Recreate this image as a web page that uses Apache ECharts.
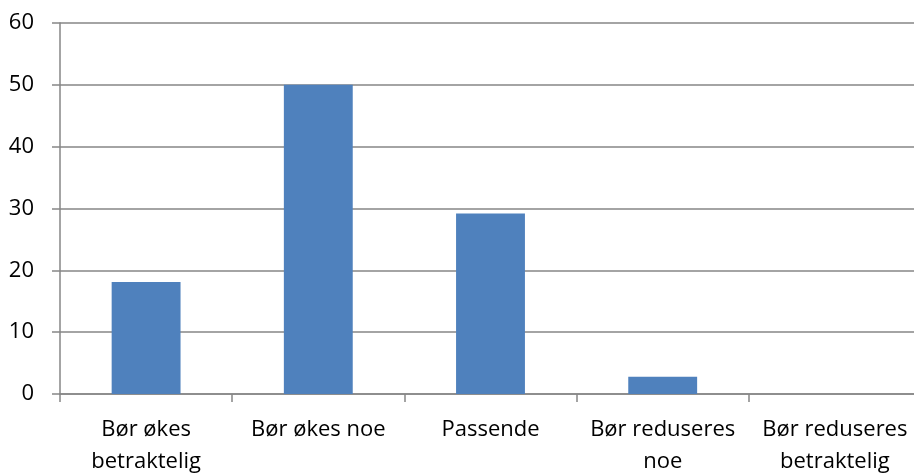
<!DOCTYPE html>
<html>
<head>
<meta charset="utf-8">
<script src="https://cdn.jsdelivr.net/npm/echarts@6/dist/echarts.min.js"></script>
<style>
html,body{margin:0;padding:0;background:#fff;}
#c{width:914px;height:473px;}
</style>
</head>
<body>
<div id="c"></div>
<script>
var categories = ["Bør økes\nbetraktelig", "Bør økes noe", "Passende", "Bør reduseres\nnoe", "Bør reduseres\nbetraktelig"];
var values = [18.1, 50, 29.2, 2.8, 0];
var yTicks = {min: 0, max: 60, interval: 10};

var chart = echarts.init(document.getElementById('c'), null, {renderer: 'canvas'});
chart.setOption({
  animation: false,
  backgroundColor: '#fff',
  textStyle: {fontFamily: 'Open Sans'},
  grid: {left: 60, top: 23, height: 371, width: 861, containLabel: false, outerBoundsMode: 'none'},
  xAxis: {
    type: 'category',
    data: categories,
    axisLine: {show: true, lineStyle: {color: '#868686', width: 1.5}},
    axisTick: {show: true, alignWithLabel: false, length: 8, lineStyle: {color: '#868686', width: 1.5}},
    axisLabel: {interval: 0, color: '#000', fontSize: 22, lineHeight: 32, margin: 20, fontFamily: 'Open Sans'},
    splitLine: {show: false}
  },
  yAxis: {
    type: 'value',
    min: yTicks.min, max: yTicks.max, interval: yTicks.interval,
    axisLine: {show: true, lineStyle: {color: '#868686', width: 1.5}},
    axisTick: {show: true, length: 8, lineStyle: {color: '#868686', width: 1.5}},
    axisLabel: {color: '#000', fontSize: 22, margin: 26, fontFamily: 'Open Sans'},
    splitLine: {show: true, lineStyle: {color: '#868686', width: 1.5}}
  },
  series: [{
    type: 'bar',
    data: values,
    barWidth: '40%',
    itemStyle: {color: '#4F81BD'}
  }]
});
</script>
</body>
</html>
